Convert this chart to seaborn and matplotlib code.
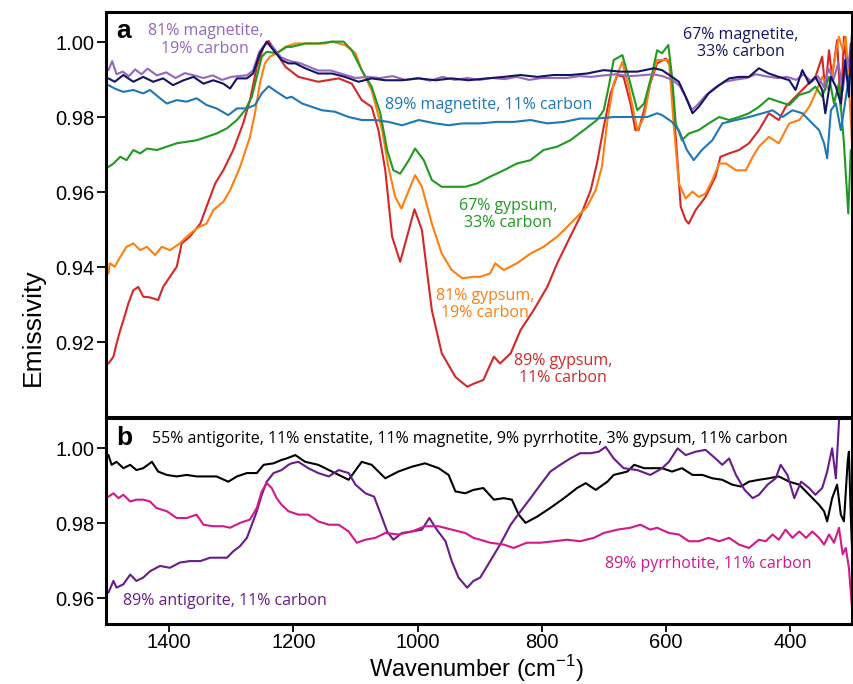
import numpy as np
import pandas as pd
import matplotlib
matplotlib.use("Agg")
import matplotlib.pyplot as plt
import seaborn as sns

# ---------------- data (panel a) ----------------
wn_red = [1498,1490,1485,1479,1474,1466,1458,1450,1442,1431,1418,1410,1399,1388,1380,1367,1350,1340,1326,1313,1297,1281,1270,1259,1248,1240,1227,1213,1192,1160,1127,1106,1090,1074,1063,1052,1041,1028,1017,1005,993,977,961,939,920,908,894,877,867,850,834,813,791,775,754,738,721,711,700,689,678,668,657,649,644,635,625,614,600,592,584,576,568,563,552,536,520,512,498,482,466,450,434,418,407,391,375,359,348,343,337,332,324,318,313,307,302]
em_red = [.9144,.9162,.9197,.9233,.9259,.9304,.9339,.9348,.9322,.9320,.9313,.9348,.9375,.9402,.9464,.9482,.9517,.9562,.9624,.9659,.9713,.9784,.9846,.9935,.9988,1.0004,.9971,.9935,.9908,.9895,.9904,.9890,.9846,.9828,.9766,.9659,.9482,.9415,.9482,.9555,.9500,.9286,.9171,.9108,.9082,.9091,.9100,.9162,.9144,.9171,.9233,.9286,.9348,.9411,.9482,.9535,.9606,.9677,.9775,.9864,.9913,.9908,.9837,.9766,.9766,.9819,.9891,.9944,.9957,.9935,.9748,.9562,.9526,.9517,.9553,.9588,.9642,.9695,.9704,.9713,.9731,.9766,.9811,.9793,.9828,.9855,.9882,.9908,.9962,.9873,.9979,.9908,1.0006,.9819,1.0015,.9908,.9997]

wn_orange = [1498,1496,1488,1479,1469,1458,1447,1436,1423,1412,1399,1383,1372,1356,1340,1329,1313,1302,1286,1270,1262,1254,1246,1238,1227,1213,1197,1170,1149,1138,1117,1100,1090,1074,1057,1047,1036,1026,1014,1004,993,977,961,945,928,910,899,883,875,861,840,818,797,775,759,743,727,713,703,694,684,670,660,646,635,625,614,606,595,587,579,568,557,547,536,525,514,503,487,471,460,450,434,418,401,385,369,359,348,337,326,321,315,310,304,300]
em_orange = [.9384,.9411,.9402,.9428,.9455,.9464,.9446,.9455,.9433,.9455,.9446,.9464,.9482,.9504,.9517,.9553,.9575,.9606,.9668,.9748,.9811,.9891,.9944,.9962,.9971,.9988,.9997,.9997,.9997,1.0002,.9993,.9971,.9926,.9873,.9766,.9668,.9588,.9557,.9606,.9646,.9615,.9517,.9437,.9393,.9371,.9375,.9375,.9384,.9411,.9393,.9411,.9437,.9455,.9482,.9508,.9535,.9562,.9606,.9668,.9793,.9891,.9948,.9882,.9766,.9801,.9891,.9953,.9953,.9953,.9775,.9624,.9584,.9602,.9588,.9597,.9633,.9677,.9677,.9659,.9659,.9695,.9722,.9748,.9731,.9784,.9793,.9828,.9864,.9908,.9873,.9971,1.0015,.9979,1.0015,.9855,.9731]

wn_green = [1498,1490,1479,1469,1458,1447,1436,1420,1404,1388,1372,1356,1340,1324,1307,1291,1278,1267,1259,1251,1243,1227,1211,1203,1181,1160,1138,1119,1106,1090,1074,1060,1049,1039,1028,1014,1004,990,977,961,945,923,904,883,861,840,818,797,775,754,732,711,700,692,684,670,660,646,635,622,614,606,596,590,584,574,563,547,531,514,498,482,466,450,434,418,401,385,369,359,348,337,329,321,313,306,302]
em_green = [.9668,.9677,.9695,.9686,.9713,.9704,.9717,.9713,.9722,.9731,.9735,.9739,.9748,.9757,.9771,.9793,.9819,.9855,.9908,.9962,.9975,.9971,.9988,.9988,.9997,.9997,1.0002,1.0002,.9979,.9926,.9882,.9811,.9713,.9659,.9650,.9686,.9717,.9686,.9633,.9615,.9615,.9615,.9624,.9642,.9659,.9677,.9686,.9713,.9722,.9739,.9766,.9793,.9819,.9882,.9953,.9966,.9908,.9819,.9837,.9917,.9979,.9971,.9993,.9908,.9784,.9739,.9757,.9766,.9784,.9801,.9793,.9801,.9811,.9828,.9851,.9842,.9833,.9860,.9868,.9882,.9855,.9908,.9837,.9891,.9731,.9544,.9713]

wn_blue = [1498,1488,1474,1458,1442,1431,1418,1404,1388,1372,1356,1340,1324,1305,1291,1275,1262,1251,1240,1227,1211,1203,1186,1170,1154,1133,1111,1090,1068,1047,1025,998,971,950,928,899,872,845,818,791,764,738,711,684,657,630,614,606,590,579,566,555,542,525,509,487,466,444,428,412,396,380,364,353,345,340,334,326,318,313,305,300]
em_blue = [.9886,.9877,.9868,.9873,.9864,.9873,.9855,.9837,.9846,.9842,.9851,.9833,.9824,.9806,.9824,.9824,.9833,.9864,.9883,.9868,.9851,.9855,.9837,.9828,.9819,.9815,.9801,.9793,.9793,.9788,.9779,.9793,.9784,.9779,.9784,.9784,.9788,.9788,.9793,.9784,.9788,.9797,.9797,.9801,.9801,.9801,.9811,.9806,.9788,.9766,.9713,.9686,.9713,.9739,.9784,.9793,.9801,.9811,.9819,.9801,.9819,.9811,.9784,.9766,.9731,.9691,.9819,.9837,.9766,.9819,.9908,.9926]

wn_lilac = [1498,1492,1485,1475,1465,1455,1445,1435,1420,1405,1390,1375,1360,1345,1330,1315,1300,1290,1275,1265,1255,1243,1232,1220,1205,1190,1175,1160,1140,1120,1100,1080,1060,1040,1020,1000,980,960,940,920,900,880,860,840,820,800,780,760,740,720,700,680,660,640,620,605,590,578,568,558,548,535,520,505,490,470,455,440,420,405,390,378,365,355,345,338,330,322,315,308,302]
em_lilac = [.9926,.9950,.9915,.9922,.9910,.9928,.9915,.9930,.9912,.9920,.9905,.9918,.9912,.9905,.9912,.9900,.9908,.9910,.9912,.9925,.9975,1.0000,.9985,.9960,.9950,.9945,.9935,.9925,.9925,.9915,.9905,.9908,.9905,.9910,.9900,.9905,.9898,.9908,.9900,.9905,.9900,.9905,.9902,.9908,.9900,.9905,.9905,.9905,.9910,.9908,.9912,.9915,.9910,.9912,.9915,.9910,.9900,.9885,.9855,.9820,.9835,.9860,.9880,.9895,.9900,.9905,.9915,.9910,.9905,.9908,.9900,.9915,.9895,.9910,.9880,.9930,.9900,.9945,.9870,.9960,.9920]

wn_navy = [1498,1488,1474,1458,1442,1426,1410,1394,1377,1361,1345,1329,1313,1302,1291,1275,1265,1254,1243,1232,1219,1208,1197,1181,1160,1138,1117,1095,1074,1052,1025,998,971,945,918,888,861,834,807,781,754,727,700,673,646,619,606,590,579,568,557,547,531,514,498,482,466,450,434,418,401,391,380,369,359,348,343,334,326,318,311,305,300]
em_navy = [.9904,.9895,.9913,.9895,.9908,.9895,.9904,.9886,.9899,.9908,.9890,.9899,.9890,.9877,.9904,.9904,.9917,.9971,1.0002,.9979,.9953,.9944,.9944,.9931,.9917,.9917,.9908,.9895,.9904,.9899,.9899,.9904,.9899,.9904,.9899,.9904,.9908,.9913,.9908,.9913,.9913,.9917,.9926,.9922,.9922,.9931,.9926,.9908,.9895,.9855,.9811,.9828,.9864,.9886,.9904,.9908,.9908,.9931,.9917,.9908,.9899,.9873,.9926,.9890,.9908,.9873,.9811,.9908,.9882,.9837,.9953,.9855,1.0024]

# ---------------- data (panel b) ----------------
wn_mix = [1498,1493,1485,1474,1463,1453,1442,1428,1418,1404,1388,1372,1356,1340,1324,1305,1291,1275,1259,1248,1232,1219,1211,1197,1181,1160,1138,1111,1090,1074,1052,1031,1009,988,966,950,939,923,910,894,877,861,848,837,826,807,786,764,743,729,713,694,684,662,651,635,614,606,590,574,557,541,525,509,493,479,466,450,434,418,401,385,369,353,345,340,332,324,318,313,307,305,302,300]
em_mix = [.9982,.9956,.9964,.9947,.9956,.9942,.9947,.9964,.9938,.9929,.9925,.9929,.9925,.9925,.9925,.9911,.9925,.9934,.9934,.9956,.9960,.9969,.9973,.9982,.9964,.9956,.9938,.9916,.9964,.9956,.9920,.9938,.9951,.9960,.9947,.9929,.9885,.9880,.9889,.9894,.9863,.9867,.9863,.9823,.9801,.9818,.9841,.9867,.9894,.9907,.9889,.9911,.9929,.9938,.9956,.9947,.9947,.9947,.9938,.9947,.9929,.9929,.9920,.9916,.9903,.9898,.9911,.9916,.9920,.9925,.9911,.9903,.9876,.9849,.9832,.9805,.9867,.9903,.9823,.9805,.9964,.9991,.9823,.9734]

wn_antig = [1498,1490,1485,1474,1463,1453,1442,1431,1415,1399,1383,1367,1350,1334,1321,1307,1297,1286,1275,1267,1259,1251,1243,1232,1219,1208,1203,1192,1176,1160,1143,1127,1111,1100,1084,1070,1059,1049,1039,1025,1009,993,981,969,955,945,934,920,910,899,883,867,850,834,818,802,786,770,754,738,721,708,697,684,668,646,625,611,606,595,581,568,552,536,520,509,498,487,473,460,450,436,423,415,404,393,382,369,359,348,340,332,326,321,316]
em_antig = [.9615,.9646,.9628,.9637,.9663,.9646,.9655,.9672,.9686,.9681,.9695,.9699,.9699,.9708,.9708,.9708,.9725,.9739,.9761,.9796,.9832,.9876,.9911,.9934,.9942,.9956,.9960,.9964,.9947,.9934,.9925,.9942,.9934,.9903,.9880,.9871,.9823,.9778,.9756,.9774,.9778,.9783,.9814,.9783,.9752,.9699,.9655,.9628,.9646,.9655,.9699,.9743,.9796,.9832,.9867,.9903,.9938,.9956,.9973,.9987,.9987,.9991,1.0004,.9973,.9947,.9942,.9929,.9942,.9947,.9964,1.0000,.9982,.9991,.9996,.9973,.9956,.9973,.9929,.9889,.9867,.9876,.9903,.9920,.9956,.9929,.9867,.9911,.9894,.9876,.9894,.9938,1.0000,.9920,1.0071,1.0150]

wn_pyrr = [1498,1490,1482,1474,1463,1453,1442,1431,1421,1404,1388,1372,1356,1345,1329,1313,1302,1286,1270,1259,1251,1243,1235,1227,1219,1208,1192,1176,1160,1143,1127,1111,1098,1084,1068,1052,1031,1009,988,966,945,923,910,899,883,861,845,824,802,780,759,738,716,700,678,657,641,625,614,595,579,563,547,531,514,498,482,466,450,439,428,418,407,396,385,374,364,353,345,337,329,321,315,310,305,300]
em_pyrr = [.9871,.9880,.9867,.9876,.9858,.9863,.9863,.9858,.9841,.9832,.9814,.9814,.9823,.9796,.9792,.9792,.9788,.9801,.9810,.9841,.9885,.9907,.9894,.9867,.9849,.9832,.9823,.9823,.9805,.9796,.9796,.9778,.9748,.9756,.9761,.9774,.9770,.9778,.9792,.9792,.9783,.9774,.9761,.9756,.9748,.9743,.9734,.9748,.9748,.9752,.9756,.9752,.9761,.9774,.9783,.9788,.9796,.9783,.9788,.9774,.9770,.9752,.9752,.9761,.9752,.9761,.9743,.9734,.9756,.9752,.9770,.9756,.9783,.9761,.9778,.9761,.9778,.9761,.9743,.9770,.9748,.9788,.9717,.9734,.9681,.9575]

a_series = [
    ("89% gypsum, 11% carbon", wn_red, em_red, "#d62728"),
    ("81% gypsum, 19% carbon", wn_orange, em_orange, "#ff7f0e"),
    ("67% gypsum, 33% carbon", wn_green, em_green, "#1f9a1f"),
    ("89% magnetite, 11% carbon", wn_blue, em_blue, "#1f77b4"),
    ("81% magnetite, 19% carbon", wn_lilac, em_lilac, "#9467bd"),
    ("67% magnetite, 33% carbon", wn_navy, em_navy, "#141464"),
]
b_series = [
    ("mix", wn_mix, em_mix, "#000000"),
    ("89% antigorite, 11% carbon", wn_antig, em_antig, "#6a1b8a"),
    ("89% pyrrhotite, 11% carbon", wn_pyrr, em_pyrr, "#d4178c"),
]

# ---------------- style ----------------
sns.set_style("ticks")
plt.rcParams["font.family"] = ["Liberation Sans", "DejaVu Sans"]
plt.rcParams.update({
    "axes.edgecolor": "black", "xtick.color": "black", "ytick.color": "black",
    "text.color": "black", "axes.labelcolor": "black",
    "xtick.labelcolor": "black", "ytick.labelcolor": "black",
})
ANN = ["Open Sans", "DejaVu Sans"]

fig = plt.figure(figsize=(8.54, 6.84), dpi=100)
ax_a = fig.add_axes([106/854, 1-416.7/684, 746/854, 404.7/684])
ax_b = fig.add_axes([106/854, 1-624/684, 746/854, 206/684])

def draw(ax, series):
    for name, wn, em, col in series:
        df = pd.DataFrame({"wn": wn, "em": em})
        sns.lineplot(data=df, x="wn", y="em", ax=ax, color=col, lw=1.5,
                     estimator=None, sort=False, legend=False)

draw(ax_a, a_series)
draw(ax_b, b_series)

for ax in (ax_a, ax_b):
    ax.set_xlim(1502, 300)
    ax.set_xlabel("")
    ax.set_ylabel("")
    for s in ax.spines.values():
        s.set_linewidth(2.2)
        s.set_color("black")
        s.set_visible(True)
    ax.tick_params(axis="both", direction="out", length=6.5, width=1.3,
                   labelsize=14.5, pad=2, colors="black")

ax_a.set_ylim(0.9002, 1.0081)
ax_a.set_yticks([0.92, 0.94, 0.96, 0.98, 1.00])
ax_a.set_yticklabels(["0.92", "0.94", "0.96", "0.98", "1.00"])
ax_a.tick_params(axis="x", bottom=False, labelbottom=False)

ax_b.set_ylim(0.9531, 1.0081)
ax_b.set_yticks([0.96, 0.98, 1.00])
ax_b.set_yticklabels(["0.96", "0.98", "1.00"])
ax_b.set_xticks([1400, 1200, 1000, 800, 600, 400])
ax_b.tick_params(axis="x", length=5.5, pad=1)

# panel letters
ax_a.text(0.014, 0.952, "a", transform=ax_a.transAxes, fontsize=19,
          fontweight="bold", ha="left", va="center")
ax_b.text(0.014, 0.905, "b", transform=ax_b.transAxes, fontsize=19,
          fontweight="bold", ha="left", va="center")

fs = 11.5
def ann(ax, x, y, s, c):
    ax.text(x, y, s, transform=ax.transAxes, color=c, fontsize=fs,
            family=ANN, ha="center", va="center", multialignment="center",
            linespacing=1.1)

ann(ax_a, 0.133, 0.931, "81% magnetite,\n19% carbon", "#9467bd")
ann(ax_a, 0.851, 0.923, "67% magnetite,\n33% carbon", "#141464")
ann(ax_a, 0.513, 0.770, "89% magnetite, 11% carbon", "#1f77b4")
ann(ax_a, 0.539, 0.500, "67% gypsum,\n33% carbon", "#1f9a1f")
ann(ax_a, 0.508, 0.278, "81% gypsum,\n19% carbon", "#ff7f0e")
ann(ax_a, 0.613, 0.117, "89% gypsum,\n11% carbon", "#d62728")

ann(ax_b, 0.488, 0.899,
    "55% antigorite, 11% enstatite, 11% magnetite, 9% pyrrhotite, 3% gypsum, 11% carbon",
    "#000000")
ann(ax_b, 0.160, 0.111, "89% antigorite, 11% carbon", "#6a1b8a")
ann(ax_b, 0.807, 0.290, "89% pyrrhotite, 11% carbon", "#d4178c")

fig.text(33/854, 1-327/684, "Emissivity", rotation=90, fontsize=19,
         ha="center", va="center")
fig.text(476/854, 0.5/684, "Wavenumber (cm$^{\\mathregular{-1}}$)",
         fontsize=17, ha="center", va="bottom")

fig.savefig("out.png", dpi=100)
